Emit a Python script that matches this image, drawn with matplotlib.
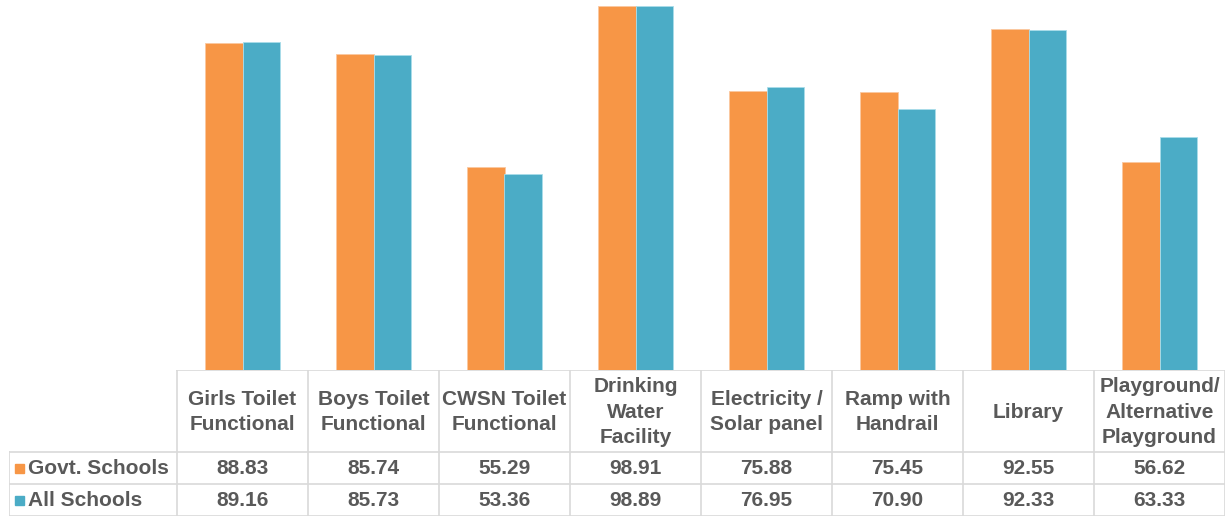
import matplotlib.pyplot as plt
import numpy as np

categories = ['Girls Toilet\nFunctional', 'Boys Toilet\nFunctional', 'CWSN Toilet\nFunctional',
              'Drinking\nWater\nFacility', 'Electricity /\nSolar panel', 'Ramp with\nHandrail',
              'Library', 'Playground/\nAlternative\nPlayground']
series_names = ['Govt. Schools', 'All Schools']
govt = [88.83, 85.74, 55.29, 98.91, 75.88, 75.45, 92.55, 56.62]
all_schools = [89.16, 85.73, 53.36, 98.89, 76.95, 70.90, 92.33, 63.33]

colors = ['#F79646', '#4BACC6']
grid_c = '#D9D9D9'
text_c = '#595959'
W, H = 1231, 519

plt.rcParams['font.family'] = ['Liberation Sans', 'DejaVu Sans']
fig = plt.figure(figsize=(W / 100, H / 100), dpi=100)

# plot area in pixels
x0, x1 = 177, 1225
y_base = 370
ax = fig.add_axes([x0 / W, 1 - y_base / H, (x1 - x0) / W, (y_base - 2) / H])
n = len(categories)
X = np.arange(n)
bw = 0.286
ax.bar(X - bw / 2, govt, bw, color=colors[0], edgecolor='#FBC8A0', linewidth=0.6)
ax.bar(X + bw / 2, all_schools, bw, color=colors[1], edgecolor='#A9DDEA', linewidth=0.6)
ax.set_xlim(-0.5, n - 0.5)
ax.set_ylim(0, 100)
ax.axis('off')

# table area in pixels
tx0 = 9
t_head = 452
t_r1 = 484
t_bot = 516
cw = (x1 - x0) / n
left_w = (x0 - tx0) / cw
tab = fig.add_axes([tx0 / W, 1 - t_bot / H, (x1 - tx0) / W, (t_bot - y_base) / H])
tab.set_xlim(-0.5 - left_w, n - 0.5)
tab.set_ylim(t_bot, y_base)
tab.axis('off')

lw = 1.2
# horizontal lines
tab.plot([-0.5, n - 0.5], [y_base, y_base], color=grid_c, lw=lw)
for yy in [t_head, t_r1, t_bot]:
    tab.plot([-0.5 - left_w, n - 0.5], [yy, yy], color=grid_c, lw=lw)
# vertical lines
tab.plot([-0.5 - left_w] * 2, [t_head, t_bot], color=grid_c, lw=lw)
for i in range(n + 1):
    tab.plot([i - 0.5] * 2, [y_base, t_bot], color=grid_c, lw=lw)

fs = 15
for i, c in enumerate(categories):
    tab.text(i, (y_base + t_head) / 2 + 1, c, ha='center', va='center', fontsize=fs,
             color=text_c, fontweight='bold', linespacing=1.42)
    tab.text(i, (t_head + t_r1) / 2, '%.2f' % govt[i], ha='center', va='center',
             fontsize=fs, color=text_c, fontweight='bold')
    tab.text(i, (t_r1 + t_bot) / 2, '%.2f' % all_schools[i], ha='center', va='center',
             fontsize=fs, color=text_c, fontweight='bold')

rows_y = [(t_head + t_r1) / 2, (t_r1 + t_bot) / 2]
for name, col, yy in zip(series_names, colors, rows_y):
    lx = -0.5 - left_w + 6 / cw
    tab.add_patch(plt.Rectangle((lx, yy - 4.5), 9 / cw, 9, color=col))
    tab.text(lx + 13 / cw, yy, name, ha='left', va='center', fontsize=fs,
             color=text_c, fontweight='bold')

fig.savefig('out.png', dpi=100)
